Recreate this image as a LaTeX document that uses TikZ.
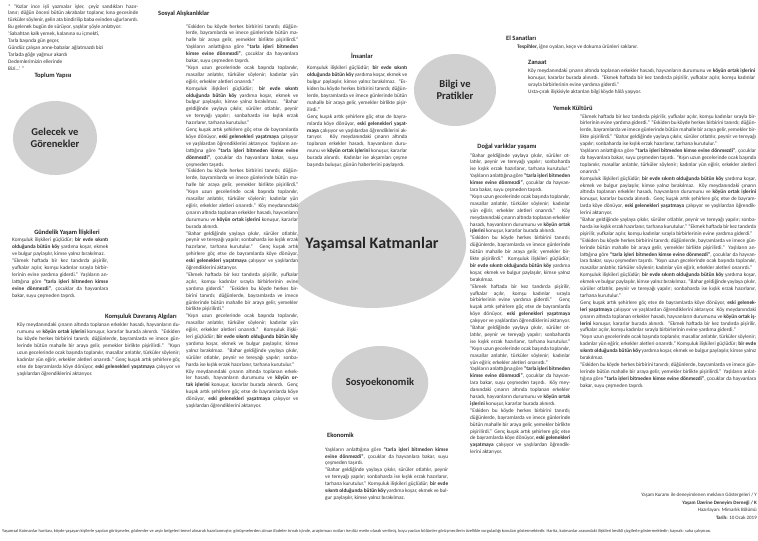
\documentclass[tikz,border=0pt]{standalone}
\usepackage{fontspec}
\setmainfont{Carlito}
\usetikzlibrary{shapes.geometric,backgrounds}
\definecolor{hubgray}{RGB}{208,208,208}
\definecolor{linkgray}{RGB}{150,150,150}
\definecolor{bodytxt}{RGB}{50,50,50}
\newcommand\kxA{“Eskiden bu köyde herkes birbirini tanırdı; düğünlerde, bayramlarda ve imece günlerinde bütün mahalle bir araya gelir, yemekler birlikte pişirilirdi.” }
\newcommand\kxB{Yaşlıların anlattığına göre \textbf{“tarla işleri bitmeden kimse evine dönmezdi”}, çocuklar da hayvanlara bakar, suyu çeşmeden taşırdı. }
\newcommand\kxC{“Kışın uzun gecelerinde ocak başında toplanılır, masallar anlatılır, türküler söylenir; kadınlar yün eğirir, erkekler aletleri onarırdı.” }
\newcommand\kxD{Komşuluk ilişkileri güçlüdür; \textbf{bir evde sıkıntı olduğunda bütün köy} yardıma koşar, ekmek ve bulgur paylaşılır, kimse yalnız bırakılmaz. }
\newcommand\kxE{“Bahar geldiğinde yaylaya çıkılır, sürüler otlatılır, peynir ve tereyağı yapılır; sonbaharda ise kışlık erzak hazırlanır, tarhana kurutulur.” }
\newcommand\kxF{Genç kuşak artık şehirlere göç etse de bayramlarda köye dönüyor, \textbf{eski gelenekleri yaşatmaya} çalışıyor ve yaşlılardan öğrendiklerini aktarıyor. }
\newcommand\kxG{Köy meydanındaki çınarın altında toplanan erkekler hasadı, hayvanların durumunu ve \textbf{köyün ortak işlerini} konuşur, kararlar burada alınırdı. }
\newcommand\kxH{“Ekmek haftada bir kez tandırda pişirilir, yufkalar açılır, komşu kadınlar sırayla birbirlerinin evine yardıma giderdi.” }
\tikzset{
  hub/.style={ellipse, fill=hubgray, inner sep=0pt, font=\fontsize{10.5}{12}\selectfont\bfseries, align=center, text=black!85},
  body/.style={anchor=north west, inner sep=0pt, fill=white, align=justify, text=bodytxt, font=\fontsize{5.3}{6.9}\selectfont},
  head/.style={inner sep=1pt, font=\fontsize{6.5}{7}\selectfont\bfseries, text=black!85},
  link/.style={draw=linkgray, line width=0.5pt, dash pattern=on 3pt off 2.5pt},
  foot/.style={anchor=east, inner sep=0pt, font=\fontsize{5}{6}\selectfont, text=bodytxt}
}
\begin{document}
\begin{tikzpicture}[x=1pt,y=-1pt]
\useasboundingbox (0,0) rectangle (758,541);
\fill[white] (0,0) rectangle (758,541);
% hubs
\node[hub, minimum width=146pt, minimum height=128pt, font=\fontsize{16}{18}\selectfont\bfseries] (main) at (372,244) {Yaşamsal Katmanlar};
\node[hub, minimum width=82pt, minimum height=72pt] (bilgi) at (455,90) {Bilgi ve\\Pratikler};
\node[hub, minimum width=84pt, minimum height=74pt] (gel) at (55,138) {Gelecek ve\\Görenekler};
\node[hub, minimum width=84pt, minimum height=74pt] (sosyo) at (380,383) {Sosyoekonomik};
% headings
\node[head, anchor=west] (hSosyal) at (157,14) {Sosyal Alışkanlıklar};
\node[head] (hToplum) at (53,76) {Toplum Yapısı};
\node[head] (hGund) at (67,232) {Gündelik Yaşam İlişkileri};
\node[head, anchor=east] (hKomsu) at (178,317) {Komşuluk Davranış Algıları};
\node[head] (hInsan) at (362,56) {İnsanlar};
\node[head, anchor=west] (hEl) at (505,38) {El Sanatları};
\node[head, anchor=west] (hZan) at (527,62) {Zanaat};
\node[head, anchor=west] (hYemek) at (552,108) {Yemek Kültürü};
\node[head] (hDogal) at (507,147) {Doğal varlıklar yaşamı};
\node[head, anchor=west] (hEkon) at (326,435) {Ekonomik};
\coordinate (ekonEnd) at (376,437);
% text blocks
\node[body, text width=130pt] (tTop) at (8,4) {* “Kızlar ince işli yazmalar işler, çeyiz sandıkları hazırlanır; düğün öncesi bütün akrabalar toplanır, kına gecesinde türküler söylenir, gelin ata bindirilip baba evinden uğurlanırdı. Bu gelenek bugün de sürüyor, yaşlılar şöyle anlatıyor:\par
‘Sabahtan kalk yemek, kalanına su içmekti,\par
Tarla başında gün geçer,\par
Gündüz çalışan anne-babalar ağlatmazdı bizi\par
Tarlada göğe yağmur akardı\par
Dedemlerimizin ellerinde\par
Bizi...’ ”};
\node[body, text width=112pt] (tSosyal) at (186,24) {\kxA\kxB\par\kxC\par\kxD\kxE\par\kxF\kxB\par\kxA\kxC\kxG\par\kxE\kxF\par\kxH\kxA\par\kxC\kxD\kxE\par\kxG\kxF};
\node[body, text width=100pt] (tInsan) at (307,66) {\kxD\kxA\par\kxF\kxG Kadınlar ise akşamları çeşme başında buluşur, günün haberlerini paylaşırdı.};
\node[body, anchor=west, fill=none] (tEl) at (517,47) {\textbf{Tespihler,} iğne oyaları, keçe ve dokuma ürünleri saklanır.};
\node[body, text width=227pt] (tZan) at (528,69) {\kxG\kxH\par Usta-çırak ilişkisiyle aktarılan bilgi köyde hâlâ yaşıyor.};
\node[body, text width=176pt] (tYemek) at (580,114) {\kxH\kxA\kxE\par\kxB\kxC\par\kxD\kxG\kxF\par\kxE\kxH\par\kxA\kxB\kxC\par\kxD\kxE\par\kxF\kxG\kxH\par\kxC\kxD\par\kxA\kxB};
\node[body, text width=100pt] (tDogal) at (470,153) {\kxE\kxB\par\kxC\kxG\par\kxA\kxD\par\kxH\kxF\par\kxE\kxC\par\kxB\kxG\par\kxA\kxF};
\node[body, text width=96pt] (tGund) at (12,238) {\kxD\par\kxH\kxB};
\node[body, text width=163pt] (tKomsu) at (17,323) {\kxG\kxA\kxC\kxF};
\node[body, text width=123pt] (tEkon) at (325,447) {\kxB\par\kxE\kxD};
% footer
\node[foot] (f1) at (757,495) {Yaşam Kuramı ile deneyimlenen mekânın Göstergeleri / Y};
\node[foot, font=\fontsize{5}{6}\selectfont\bfseries] (f2) at (757,503) {Yaşam Üzerine Deneyim Derneği / K};
\node[foot] (f3) at (757,510) {Hazırlayan: Mimarlık Bölümü};
\node[foot] (f4) at (757,518) {\textbf{Tarih:} 10 Ocak 2019};
\node[anchor=west, inner sep=0pt, font=\fontsize{4.4}{5}\selectfont, text=bodytxt] (fb) at (2,531) {Yaşamsal Katmanlar haritası, köyde yaşayan kişilerle yapılan görüşmeler, gözlemler ve arşiv belgeleri temel alınarak hazırlanmıştır; görüşmelerden alınan ifadeler tırnak içinde, araştırmacı notları ise düz metin olarak verilmiş, koyu yazılan bölümler görüşmecilerin özellikle vurguladığı konuları göstermektedir. Harita, katmanlar arasındaki ilişkileri kesikli çizgilerle göstermektedir; kaynak: saha çalışması.};
% links
\begin{scope}[on background layer]
\draw[link] (main) -- (bilgi);
\draw[link] (main) -- (sosyo);
\draw[link] (main) -- (gel);
\draw[link] (gel) -- (hSosyal.west);
\draw[link] (gel) -- (hToplum);
\draw[link] (gel) -- (hGund);
\draw[link] (gel) -- (hKomsu.north);
\draw[link] (bilgi) -- (hInsan);
\draw[link] (bilgi) -- (hEl.west);
\draw[link] (bilgi) -- (hZan.west);
\draw[link] (bilgi) -- (hYemek.west);
\draw[link] (bilgi) -- (hDogal);
\draw[link] (sosyo) -- (ekonEnd);
\end{scope}
\end{tikzpicture}
\end{document}
